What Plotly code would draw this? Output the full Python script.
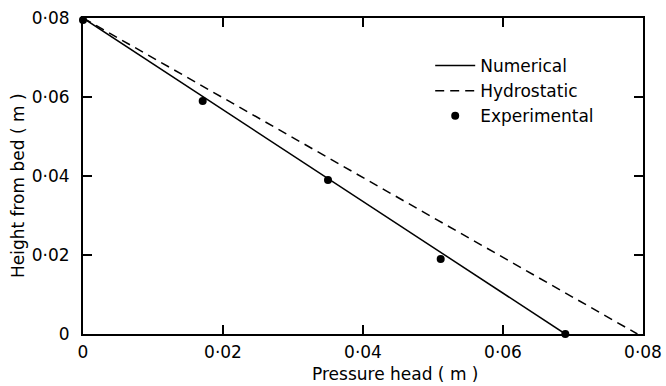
import plotly.graph_objects as go

# Data
num_x = [0.0, 0.0689]
num_y = [0.08, 0.0]
hyd_x = [0.0, 0.0792]
hyd_y = [0.08, 0.0]
exp_x = [0.0, 0.0171, 0.035, 0.0511, 0.0689]
exp_y = [0.0795, 0.059, 0.039, 0.019, 0.0]

tick_vals = [0, 0.02, 0.04, 0.06, 0.08]
tick_text = ["0", "0·02", "0·04", "0·06", "0·08"]

FONT = "DejaVu Sans"

fig = go.Figure()
fig.add_trace(go.Scatter(x=num_x, y=num_y, mode="lines", name="Numerical",
                         line=dict(color="black", width=1.5)))
fig.add_trace(go.Scatter(x=hyd_x, y=hyd_y, mode="lines", name="Hydrostatic",
                         line=dict(color="black", width=1.5, dash="9px,6px")))
fig.add_trace(go.Scatter(x=exp_x, y=exp_y, mode="markers", name="Experimental",
                         marker=dict(color="black", size=8, symbol="circle"),
                         cliponaxis=False))

axis_common = dict(
    tickvals=tick_vals, ticktext=tick_text,
    ticks="inside", ticklen=9, tickwidth=1.5, tickcolor="black",
    showline=True, linecolor="black", linewidth=2, mirror="ticks",
    showgrid=False, zeroline=False, automargin=False,
    tickfont=dict(family=FONT, size=17, color="black"),
)

fig.update_xaxes(range=[0, 0.08], ticklabelstandoff=2, **axis_common)
fig.update_yaxes(range=[0, 0.08], ticklabelstandoff=8, **axis_common)

fig.add_annotation(text="Pressure head ( m )", xref="paper", yref="paper",
                   x=0.557, y=-0.125, xanchor="center", yanchor="middle", showarrow=False,
                   font=dict(family=FONT, size=17, color="black"))
fig.add_annotation(text="Height from bed ( m )", xref="paper", yref="paper",
                   x=-0.115, y=0.47, xanchor="center", yanchor="middle", showarrow=False,
                   textangle=-90, font=dict(family=FONT, size=17, color="black"))

fig.update_layout(
    width=666, height=386,
    margin=dict(l=83, r=23, t=18, b=52),
    paper_bgcolor="white", plot_bgcolor="white",
    showlegend=True,
    legend=dict(x=0.62, y=0.905, xanchor="left", yanchor="top",
                bgcolor="rgba(0,0,0,0)", font=dict(family=FONT, size=17, color="black"),
                itemwidth=40, tracegroupgap=0),
)

fig.write_html("out.html")
